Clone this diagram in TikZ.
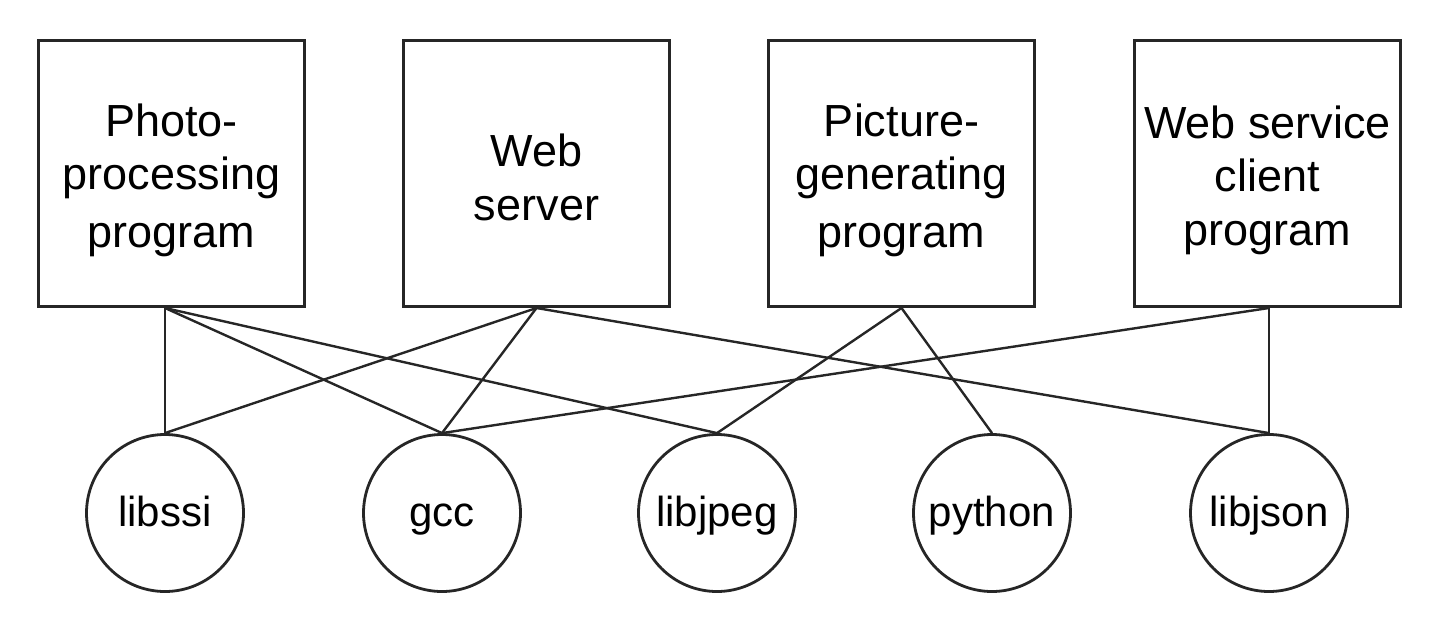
\documentclass[tikz,border=0pt]{standalone}
\usepackage{fontspec}
\setmainfont{Liberation Sans}
\newcommand{\ls}{\rule[-3pt]{0pt}{26pt}}
\begin{document}
\begin{tikzpicture}[x=0.5pt,y=-0.5pt,
  prog/.style={draw=black!85, line width=1.5pt, fill=white, minimum width=133pt, minimum height=133pt, inner sep=0pt, align=center, font=\fontsize{22.5}{26.8}\selectfont},
  lib/.style={draw=black!85, line width=1.4pt, fill=white, circle, minimum size=78.5pt, inner sep=0pt, text height=16pt, text depth=3pt, font=\fontsize{21}{25}\selectfont},
  link/.style={draw=black!85, line width=1.2pt}]
\useasboundingbox (0,0) rectangle (1444,626);
\node[prog] (b1) at (171.5,173.5) {\ls Photo-\\\ls processing\\\ls program};
\node[prog] (b2) at (536.5,173.5) {\ls Web\\\ls server};
\node[prog] (b3) at (901.5,173.5) {\ls Picture-\\\ls generating\\\ls program};
\node[prog] (b4) at (1267.5,173.5) {\ls Web service\\\ls client\\\ls program};
\node[lib] (c1) at (165,513) {libssi};
\node[lib] (c2) at (442,513) {gcc};
\node[lib] (c3) at (717,513) {libjpeg};
\node[lib] (c4) at (992,513) {python};
\node[lib] (c5) at (1269,513) {libjson};
\coordinate (o1) at (b1.south -| c1.north);
\coordinate (o4) at (b4.south -| c5.north);
\draw[link] (o1) -- (c1.north);
\draw[link] (o1) -- (c2.north);
\draw[link] (o1) -- (c3.north);
\draw[link] (b2.south) -- (c1.north);
\draw[link] (b2.south) -- (c2.north);
\draw[link] (b2.south) -- (c5.north);
\draw[link] (b3.south) -- (c3.north);
\draw[link] (b3.south) -- (c4.north);
\draw[link] (o4) -- (c2.north);
\draw[link] (o4) -- (c5.north);
\end{tikzpicture}
\end{document}
